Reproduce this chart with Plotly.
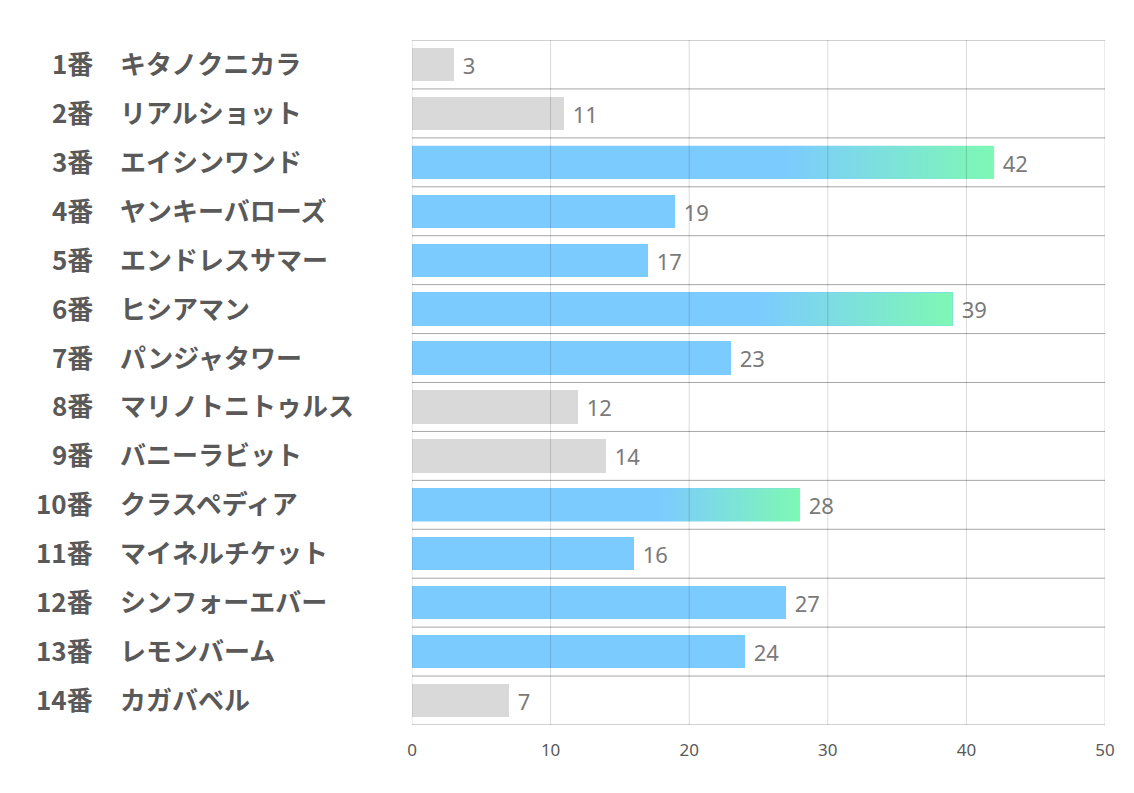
import plotly.graph_objects as go

numbers = ["1番", "2番", "3番", "4番", "5番", "6番", "7番", "8番", "9番", "10番", "11番", "12番", "13番", "14番"]
names = ["キタノクニカラ", "リアルショット", "エイシンワンド", "ヤンキーバローズ", "エンドレスサマー",
         "ヒシアマン", "パンジャタワー", "マリノトニトゥルス", "バニーラビット", "クラスペディア",
         "マイネルチケット", "シンフォーエバー", "レモンバーム", "カガバベル"]
values = [3, 11, 42, 19, 17, 39, 23, 12, 14, 28, 16, 27, 24, 7]
groups = ["gray", "gray", "grad", "blue", "blue", "grad", "blue", "gray", "gray", "grad",
          "blue", "blue", "blue", "gray"]
x_ticks = [0, 10, 20, 30, 40, 50]

BLUE = "#7ccbff"
GRAY = "#d9d9d9"
GREEN = "#7ef8b4"
BAR_W = 0.68
W, H = 1134, 793
L, R, T, B = 404, 37, 32, 76

pos = list(range(len(values)))
colors = [GRAY if g == "gray" else BLUE for g in groups]

fig = go.Figure()
fig.add_trace(go.Bar(
    x=values, y=pos, orientation="h", width=BAR_W,
    marker=dict(color=colors, line=dict(width=0)),
    text=values, texttemplate=" %{x}", textposition="outside", cliponaxis=False,
    textfont=dict(family="Noto Sans", size=22, color="#7a7a7a"),
    hoverinfo="x+y", showlegend=False,
))

h = BAR_W / 2
for i, (v, g) in enumerate(zip(values, groups)):
    if g != "grad":
        continue
    fig.add_trace(go.Scatter(
        x=[0, v, v, 0, 0], y=[i - h, i - h, i + h, i + h, i - h],
        mode="lines", line=dict(width=0), fill="toself",
        fillgradient=dict(type="horizontal",
                          colorscale=[[0, BLUE], [0.64, BLUE], [1, GREEN]]),
        hoverinfo="skip", showlegend=False,
    ))

shapes = []
for k in range(len(values) + 1):
    shapes.append(dict(type="line", xref="x domain", yref="y", x0=0, x1=1,
                       y0=k - 0.5, y1=k - 0.5, layer="below",
                       line=dict(color="#a6a6a6", width=1)))
for t in x_ticks:
    shapes.append(dict(type="line", xref="x", yref="y domain", x0=t, x1=t,
                       y0=0, y1=1, layer="above",
                       line=dict(color="rgba(0,0,0,0.15)", width=1)))

annotations = []
pw = W - L - R
x_num = (87 - L) / pw
x_name = (110 - L) / pw
lab_font = dict(family="Noto Sans CJK JP", size=26, color="#595959", weight="bold")
for i, (n, nm) in enumerate(zip(numbers, names)):
    annotations.append(dict(xref="paper", yref="y", x=x_num, y=i, text=n, yshift=2,
                            showarrow=False, xanchor="right", yanchor="middle",
                            font=lab_font))
    annotations.append(dict(xref="paper", yref="y", x=x_name, y=i, text=nm, yshift=2,
                            showarrow=False, xanchor="left", yanchor="middle",
                            font=lab_font))

fig.update_layout(
    width=W, height=H,
    margin=dict(l=L, r=R, t=T, b=B),
    paper_bgcolor="white", plot_bgcolor="white",
    shapes=shapes, annotations=annotations,
    bargap=0,
    xaxis=dict(range=[0, 50], tickvals=x_ticks, showgrid=False, zeroline=False,
               showline=False, ticks="outside", ticklen=10, tickcolor="rgba(0,0,0,0)",
               tickfont=dict(family="Noto Sans", size=17, color="#595959")),
    yaxis=dict(range=[len(values) - 0.5, -0.5], showticklabels=False, showgrid=False,
               zeroline=False, showline=False, ticks=""),
)

fig.write_html("out.html")
